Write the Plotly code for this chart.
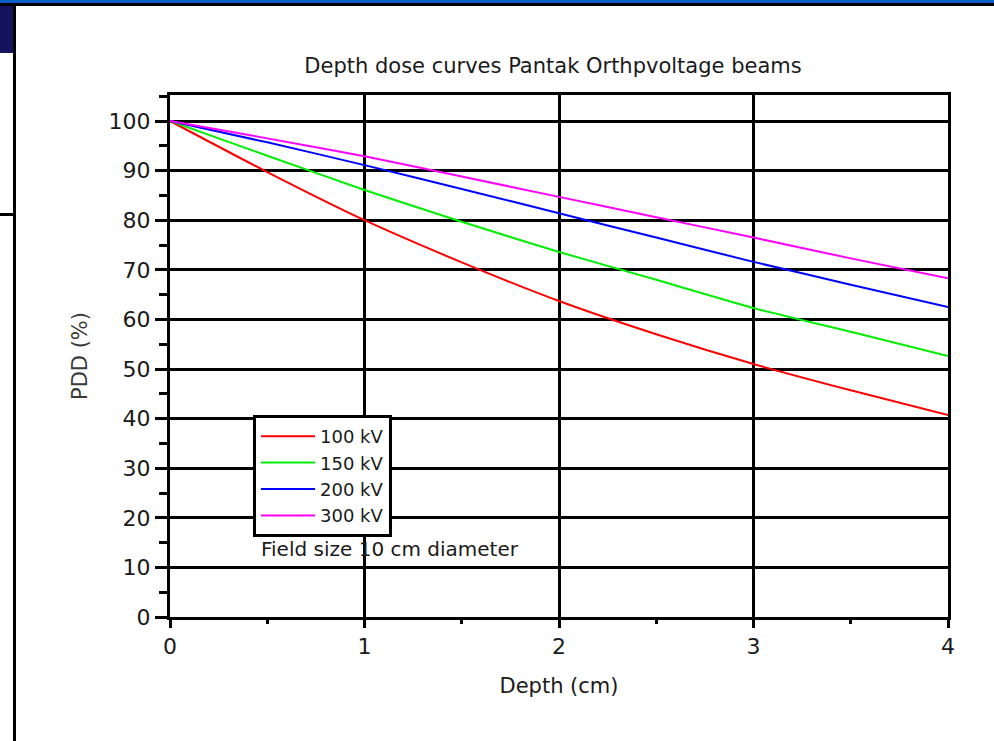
import plotly.graph_objects as go

depth_cm = [0, 0.5, 1, 1.5, 2, 2.5, 3, 3.5, 4]
pdd_100kv = [100, 89.7, 80.0, 71.5, 63.7, 57.0, 51.0, 45.7, 40.7]
pdd_150kv = [100, 93.0, 86.1, 79.7, 73.6, 68.0, 62.3, 57.5, 52.6]
pdd_200kv = [100, 95.7, 91.1, 86.3, 81.4, 76.5, 71.6, 67.0, 62.5]
pdd_300kv = [100, 96.5, 92.9, 88.8, 84.7, 80.6, 76.5, 72.3, 68.3]
series_names = ["100 kV", "150 kV", "200 kV", "300 kV"]
series_colors = ["#ff0000", "#00ee00", "#0000ff", "#ff00ff"]
x_ticks = [0, 1, 2, 3, 4]
y_ticks = [0, 10, 20, 30, 40, 50, 60, 70, 80, 90, 100]

W, H = 994, 741
L, R, T, B = 170, 948, 95, 617


def px_x(p):
    return (p - L) / (R - L)


def px_y(p):
    return (B - p) / (B - T)


FONT = "DejaVu Sans"
TXT = "#1a1a1a"

fig = go.Figure()
for name, col, vals in zip(series_names, series_colors,
                           [pdd_100kv, pdd_150kv, pdd_200kv, pdd_300kv]):
    fig.add_trace(go.Scatter(x=depth_cm, y=vals, mode="lines", name=name,
                             line=dict(color=col, width=2, shape="spline", smoothing=0.6)))

shapes = [
    # top blue band and black rule
    dict(type="rect", xref="paper", yref="paper", x0=px_x(0), x1=px_x(W), y0=px_y(0), y1=px_y(3),
         fillcolor="#0a5fc4", line=dict(width=0), layer="above"),
    dict(type="rect", xref="paper", yref="paper", x0=px_x(0), x1=px_x(W), y0=px_y(3), y1=px_y(6),
         fillcolor="#000000", line=dict(width=0), layer="above"),
    # navy block top-left
    dict(type="rect", xref="paper", yref="paper", x0=px_x(0), x1=px_x(13), y0=px_y(6), y1=px_y(53),
         fillcolor="#15135e", line=dict(width=0), layer="above"),
    # left vertical rule
    dict(type="rect", xref="paper", yref="paper", x0=px_x(13), x1=px_x(16), y0=px_y(6), y1=px_y(H),
         fillcolor="#000000", line=dict(width=0), layer="above"),
    # short horizontal rule
    dict(type="rect", xref="paper", yref="paper", x0=px_x(0), x1=px_x(13), y0=px_y(213), y1=px_y(216),
         fillcolor="#000000", line=dict(width=0), layer="above"),
]

fig.update_layout(
    width=W, height=H,
    margin=dict(l=L, r=W - R, t=T, b=H - B, autoexpand=False),
    paper_bgcolor="white", plot_bgcolor="white",
    font=dict(family=FONT, color=TXT, size=20),
    title=dict(text="Depth dose curves Pantak Orthpvoltage beams",
               font=dict(family=FONT, size=21, color=TXT),
               xref="paper", x=px_x(553), xanchor="center",
               yref="container", y=1 - 66 / H, yanchor="middle"),
    xaxis=dict(range=[0, 4], tickvals=x_ticks, ticks="outside", ticklen=8, tickwidth=3,
               tickcolor="black", showline=True, linewidth=3, linecolor="black", mirror=True,
               showgrid=True, gridcolor="black", gridwidth=3, zeroline=False,
               tickfont=dict(family=FONT, size=22, color=TXT),
               minor=dict(dtick=0.5, ticks="outside", ticklen=4, tickwidth=3, tickcolor="black",
                          showgrid=False),
               title=dict(text="Depth (cm)", font=dict(family=FONT, size=21, color=TXT), standoff=20)),
    yaxis=dict(range=[0, (B - T) / ((B - 121) / 100)], tickvals=y_ticks, ticks="outside",
               ticklen=12, tickwidth=3, tickcolor="black", showline=True, linewidth=3,
               linecolor="black", mirror=True, showgrid=True, gridcolor="black", gridwidth=3,
               zeroline=False, tickfont=dict(family=FONT, size=22, color=TXT),
               minor=dict(dtick=5, ticks="outside", ticklen=8, tickwidth=3, tickcolor="black",
                          showgrid=False),
               title=dict(text="PDD (%)", font=dict(family=FONT, size=21, color="#3a3a3a"), standoff=16)),
    legend=dict(x=px_x(253), y=px_y(415), xanchor="left", yanchor="top",
                bgcolor="white", bordercolor="black", borderwidth=3,
                itemwidth=54,
                font=dict(family=FONT, size=18, color=TXT), tracegroupgap=0),
    shapes=shapes,
    annotations=[dict(text="Field size 10 cm diameter", xref="paper", yref="paper",
                      x=px_x(259), y=px_y(549), xanchor="left", yanchor="middle",
                      showarrow=False, font=dict(family=FONT, size=20, color=TXT))],
)

fig.write_html("out.html", config={"displayModeBar": False},
               post_script="document.body.style.margin='0px';")
